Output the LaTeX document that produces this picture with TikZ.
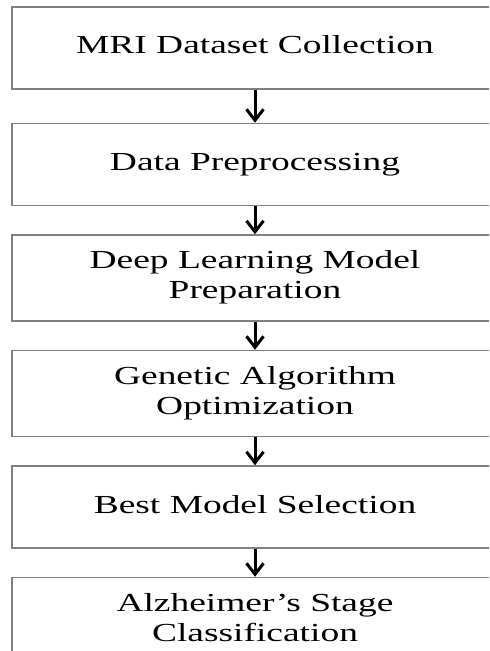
\documentclass[tikz,border=0pt]{standalone}
\usepackage{fontspec}
\setmainfont{Liberation Serif}
\usepackage{graphicx}
\usetikzlibrary{positioning,arrows.meta}

% stretched serif label, one or two lines
\newcommand{\steptext}[1]{\scalebox{1.44}[1]{\begin{tabular}{@{}c@{}}#1\end{tabular}}}

\begin{document}
\begin{tikzpicture}[
    stagebox/.style={draw=black!50, line width=0.75pt, minimum width=243pt,
      minimum height=41pt, inner sep=0pt,
      font=\fontsize{13}{15}\selectfont},
    tallbox/.style={stagebox, minimum height=43pt},
    flow/.style={-{Straight Barb[length=5.5pt,width=8.5pt]}, line width=1.5pt}]
  \useasboundingbox (0,0) rectangle (244.5pt,-325.5pt);
  \clip (0,0) rectangle (244.5pt,-325.5pt);

  \node[stagebox] (collect) at (127.5pt,-24pt) {\steptext{MRI Dataset Collection}};
  \node[stagebox, below=16.5pt of collect] (prep) {\steptext{Data Preprocessing}};
  \node[tallbox, below=14pt of prep] (model) {\steptext{Deep Learning Model\\Preparation}};
  \node[tallbox, below=14pt of model] (ga) {\steptext{Genetic Algorithm\\Optimization}};
  \node[stagebox, below=14pt of ga] (best) {\steptext{Best Model Selection}};
  \node[tallbox, below=14pt of best] (stage) {\steptext{Alzheimer's Stage\\Classification}};

  \draw[flow] (collect) -- (prep);
  \draw[flow] (prep) -- (model);
  \draw[flow] (model) -- (ga);
  \draw[flow] (ga) -- (best);
  \draw[flow] (best) -- (stage);
\end{tikzpicture}
\end{document}
